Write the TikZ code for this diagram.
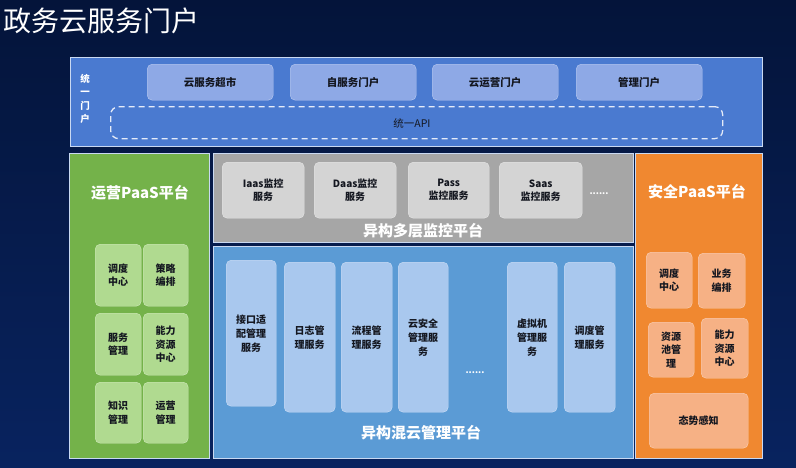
\documentclass[tikz,border=0pt]{standalone}
\usepackage{fontspec}
\setmainfont{Noto Sans CJK SC}
\definecolor{bgtop}{HTML}{04143A}
\definecolor{bgbot}{HTML}{08235F}
\definecolor{topblue}{HTML}{4A7AD0}
\definecolor{edge}{HTML}{C9D9F2}
\definecolor{topbox}{HTML}{8EA9E6}
\definecolor{pgreen}{HTML}{74B24A}
\definecolor{greenbox}{HTML}{B0DA90}
\definecolor{pgray}{HTML}{A6A6A6}
\definecolor{graybox}{HTML}{D4D4D4}
\definecolor{pblue}{HTML}{5B9BD5}
\definecolor{bluecol}{HTML}{A9C8EE}
\definecolor{porange}{HTML}{F08830}
\definecolor{orangebox}{HTML}{F6B185}
\definecolor{txt}{HTML}{141720}
\tikzset{
  panel/.style={draw=edge, line width=1pt, inner sep=0pt, anchor=north west},
  sbox/.style={rounded corners=5pt, inner sep=1pt, align=center, anchor=north west,
    text=txt, font=\bfseries\fontsize{10}{13.5}\selectfont},
  ptitle/.style={text=white, font=\bfseries\fontsize{15}{18}\selectfont, inner sep=0pt},
  dots/.style={text=white, font=\bfseries\fontsize{9}{10}\selectfont, inner sep=0pt}
}
\begin{document}
\begin{tikzpicture}[x=1pt,y=-1pt]
\shade[top color=bgtop, bottom color=bgbot] (0,0) rectangle (796,467);
\useasboundingbox (0,0) rectangle (796,467);
% title
\node[text=white, font=\fontsize{28}{30}\selectfont, anchor=west, inner sep=0pt] (title) at (3,21) {政务云服务门户};
% portal
\node[panel, fill=topblue, minimum width=692pt, minimum height=89pt] (portal) at (70,57) {};
\node[text=white, font=\bfseries\fontsize{9.5}{13.5}\selectfont, align=center, inner sep=0pt] (tymh) at (85,99) {统\\一\\门\\户};
\node[sbox, fill=topbox, draw=topbox!60!white, minimum width=126pt, minimum height=36pt, font=\bfseries\fontsize{10.5}{12}\selectfont] (p1) at (147,64) {云服务超市};
\node[sbox, fill=topbox, draw=topbox!60!white, minimum width=126pt, minimum height=36pt, font=\bfseries\fontsize{10.5}{12}\selectfont] (p2) at (290,64) {自服务门户};
\node[sbox, fill=topbox, draw=topbox!60!white, minimum width=126pt, minimum height=36pt, font=\bfseries\fontsize{10.5}{12}\selectfont] (p3) at (432,64) {云运营门户};
\node[sbox, fill=topbox, draw=topbox!60!white, minimum width=126pt, minimum height=36pt, font=\bfseries\fontsize{10.5}{12}\selectfont] (p4) at (576,64) {管理门户};
\node[draw=white!85!topblue, dash pattern=on 6pt off 4pt, line width=1.3pt, rounded corners=8pt, minimum width=612pt, minimum height=32pt, anchor=north west, inner sep=0pt] (api) at (110,106) {};
\node[text=txt, font=\fontsize{10.5}{12}\selectfont, inner sep=0pt] (apit) at (412,123) {统一API};
% green panel
\node[panel, fill=pgreen, minimum width=140pt, minimum height=305pt] (gp) at (69,153) {};
\node[ptitle] (gt) at (140,193) {运营PaaS平台};
\node[sbox, fill=greenbox, draw=greenbox!60!white, minimum width=46pt, minimum height=62pt] (g1) at (95,244) {调度\\中心};
\node[sbox, fill=greenbox, draw=greenbox!60!white, minimum width=45pt, minimum height=62pt] (g2) at (143,244) {策略\\编排};
\node[sbox, fill=greenbox, draw=greenbox!60!white, minimum width=46pt, minimum height=62pt] (g3) at (95,313) {服务\\管理};
\node[sbox, fill=greenbox, draw=greenbox!60!white, minimum width=45pt, minimum height=62pt] (g4) at (143,313) {能力\\资源\\中心};
\node[sbox, fill=greenbox, draw=greenbox!60!white, minimum width=46pt, minimum height=61pt] (g5) at (95,382) {知识\\管理};
\node[sbox, fill=greenbox, draw=greenbox!60!white, minimum width=45pt, minimum height=61pt] (g6) at (143,382) {运营\\管理};
% gray panel
\node[panel, fill=pgray, minimum width=420pt, minimum height=89pt] (mp) at (213,153) {};
\node[sbox, fill=graybox, draw=graybox!60!white, minimum width=82pt, minimum height=56pt, font=\bfseries\fontsize{10}{13}\selectfont] (m1) at (222,162) {Iaas监控\\服务};
\node[sbox, fill=graybox, draw=graybox!60!white, minimum width=82pt, minimum height=56pt, font=\bfseries\fontsize{10}{13}\selectfont] (m2) at (314,162) {Daas监控\\服务};
\node[sbox, fill=graybox, draw=graybox!60!white, minimum width=81pt, minimum height=56pt, font=\bfseries\fontsize{10}{13}\selectfont] (m3) at (408,162) {Pass\\监控服务};
\node[sbox, fill=graybox, draw=graybox!60!white, minimum width=83pt, minimum height=56pt, font=\bfseries\fontsize{10}{13}\selectfont] (m4) at (499,162) {Saas\\监控服务};
\node[dots] (md) at (599,194) {......};
\node[ptitle] (mt) at (423,231) {异构多层监控平台};
% blue panel
\node[panel, fill=pblue, minimum width=420pt, minimum height=212pt] (hp) at (213,246) {};
\node[sbox, fill=bluecol, draw=bluecol!60!white, minimum width=50pt, minimum height=146pt, font=\bfseries\fontsize{10}{14}\selectfont] (h1) at (226,260) {接口适\\配管理\\服务};
\node[sbox, fill=bluecol, draw=bluecol!60!white, minimum width=51pt, minimum height=150pt, font=\bfseries\fontsize{10}{14}\selectfont] (h2) at (284,262) {日志管\\理服务};
\node[sbox, fill=bluecol, draw=bluecol!60!white, minimum width=51pt, minimum height=150pt, font=\bfseries\fontsize{10}{14}\selectfont] (h3) at (341,262) {流程管\\理服务};
\node[sbox, fill=bluecol, draw=bluecol!60!white, minimum width=50pt, minimum height=150pt, font=\bfseries\fontsize{10}{14}\selectfont] (h4) at (398,262) {云安全\\管理服\\务};
\node[dots] (hd) at (475,373) {......};
\node[sbox, fill=bluecol, draw=bluecol!60!white, minimum width=50pt, minimum height=150pt, font=\bfseries\fontsize{10}{14}\selectfont] (h5) at (507,262) {虚拟机\\管理服\\务};
\node[sbox, fill=bluecol, draw=bluecol!60!white, minimum width=51pt, minimum height=150pt, font=\bfseries\fontsize{10}{14}\selectfont] (h6) at (564,262) {调度管\\理服务};
\node[ptitle] (ht) at (421,433) {异构混云管理平台};
% orange panel
\node[panel, fill=porange, minimum width=127pt, minimum height=305pt] (op) at (635,153) {};
\node[ptitle] (ot) at (697,192) {安全PaaS平台};
\node[sbox, fill=orangebox, draw=orangebox!60!white, minimum width=46pt, minimum height=56pt] (o1) at (646,252) {调度\\中心};
\node[sbox, fill=orangebox, draw=orangebox!60!white, minimum width=47pt, minimum height=55pt] (o2) at (698,253) {业务\\编排};
\node[sbox, fill=orangebox, draw=orangebox!60!white, minimum width=46pt, minimum height=55pt] (o3) at (648,322) {资源\\池管\\理};
\node[sbox, fill=orangebox, draw=orangebox!60!white, minimum width=47pt, minimum height=60pt] (o4) at (701,318) {能力\\资源\\中心};
\node[sbox, fill=orangebox, draw=orangebox!60!white, minimum width=99pt, minimum height=55pt] (o5) at (649,393) {态势感知};
\end{tikzpicture}
\end{document}
